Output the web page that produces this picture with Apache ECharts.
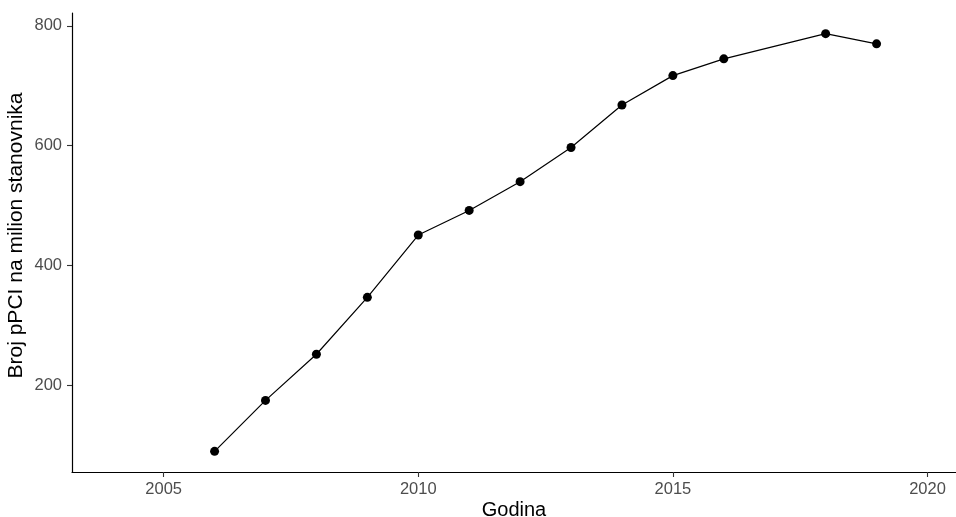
<!DOCTYPE html>
<html>
<head>
<meta charset="utf-8">
<script src="https://cdn.jsdelivr.net/npm/echarts@6/dist/echarts.min.js"></script>
<style>
  html, body { margin: 0; padding: 0; background: #fff; }
  #chart { width: 956px; height: 517px; }
</style>
</head>
<body>
<div id="chart"></div>
<script>
// pPCI procedures per million inhabitants, by year
const years = [2006, 2007, 2008, 2009, 2010, 2011, 2012, 2013, 2014, 2015, 2016, 2018, 2019];
const values = [90, 175, 252, 347, 451, 492, 540, 597, 668, 717, 745, 787, 770];
const xTicks = [2005, 2010, 2015, 2020];
const yTicks = [200, 400, 600, 800];

const points = years.map((y, i) => [y, values[i]]);
const labelFont = 'Liberation Sans, Arial, sans-serif';

const chart = echarts.init(document.getElementById('chart'), null, { renderer: 'canvas' });
chart.setOption({
  animation: false,
  backgroundColor: '#ffffff',
  grid: { left: 72, right: 0, top: 13, bottom: 45, containLabel: false, outerBoundsMode: 'none' },
  xAxis: {
    type: 'value',
    min: 2003.2,
    max: 2020.56,
    name: 'Godina',
    nameLocation: 'middle',
    nameGap: 28,
    nameMoveOverlap: false,
    nameTextStyle: { color: '#000', fontSize: 20, fontFamily: labelFont },
    axisLine: { show: true, lineStyle: { color: '#000', width: 1.2 } },
    axisTick: { show: true, length: 5, customValues: xTicks, lineStyle: { color: '#333', width: 1.1 } },
    axisLabel: {
      customValues: xTicks, color: '#4d4d4d', fontSize: 16.5, fontFamily: labelFont, margin: 9,
      formatter: v => String(v)
    },
    splitLine: { show: false }
  },
  yAxis: {
    type: 'value',
    min: 55.5,
    max: 821.5,
    name: 'Broj pPCI na milion stanovnika',
    nameLocation: 'middle',
    nameGap: 45,
    nameMoveOverlap: false,
    nameTextStyle: { color: '#000', fontSize: 21, fontFamily: labelFont, padding: [0, 0, 0, 14] },
    axisLine: { show: true, lineStyle: { color: '#000', width: 1.2 } },
    axisTick: { show: true, length: 5, customValues: yTicks, lineStyle: { color: '#333', width: 1.1 } },
    axisLabel: {
      customValues: yTicks, color: '#4d4d4d', fontSize: 16.5, fontFamily: labelFont, margin: 10,
      formatter: v => String(v)
    },
    splitLine: { show: false }
  },
  series: [{
    type: 'line',
    data: points,
    symbol: 'circle',
    symbolSize: 9,
    itemStyle: { color: '#000' },
    lineStyle: { color: '#000', width: 1.2 }
  }]
});
</script>
</body>
</html>
